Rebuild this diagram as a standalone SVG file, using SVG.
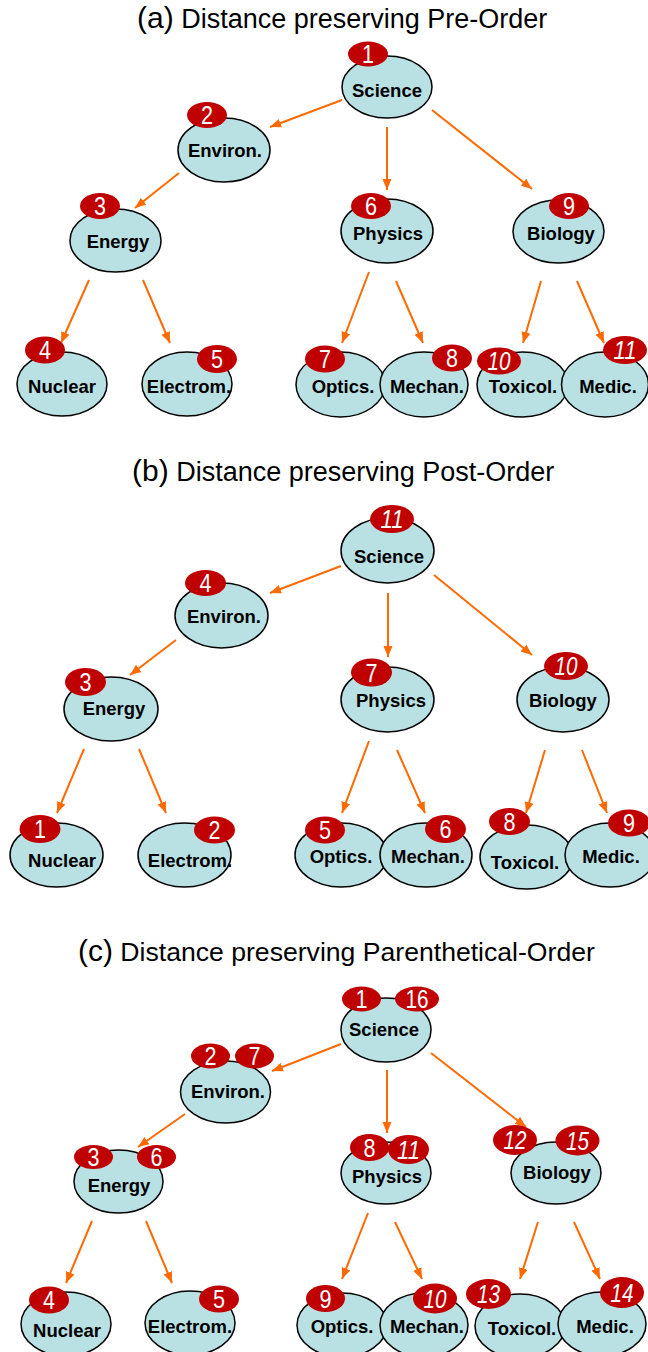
<svg xmlns="http://www.w3.org/2000/svg" width="648" height="1352" viewBox="0 0 648 1352">
<defs>
<marker id="ah" markerWidth="12" markerHeight="10" refX="11" refY="5" orient="auto" markerUnits="userSpaceOnUse"><path d="M0,0.5 L11,5 L0,9.5 z" fill="#FF6A00"/></marker>
<style>
.n{fill:#B9E0E3;stroke:#000;stroke-width:1.5}
.b{fill:#C00000;stroke:none}
.l{font-family:"Liberation Sans",Arial,sans-serif;font-weight:bold;font-size:18.5px;fill:#000;text-anchor:middle}
.d{font-family:"Liberation Sans",Arial,sans-serif;font-size:25px;fill:#fff;text-anchor:middle}
.i{font-style:italic}
.t{font-family:"Liberation Sans",Arial,sans-serif;font-size:27px;fill:#000}
.p{font-size:30px}
.e{stroke:#FF6A00;stroke-width:2;fill:none;marker-end:url(#ah)}
</style>
</defs>
<rect width="648" height="1352" fill="#fff"/>
<text class="t" x="137" y="28"><tspan class="p">(a)</tspan> Distance preserving Pre-Order</text>
<text class="t" x="132" y="481"><tspan class="p">(b)</tspan> Distance preserving Post-Order</text>
<text class="t" x="78" y="961" style="font-size:26.6px"><tspan class="p">(c)</tspan> Distance preserving Parenthetical-Order</text>
<g id="connectors">
<line class="e" x1="342" y1="100" x2="270" y2="127"/>
<line class="e" x1="387" y1="127" x2="387" y2="190"/>
<line class="e" x1="432" y1="110" x2="532" y2="189"/>
<line class="e" x1="179" y1="173" x2="135" y2="208"/>
<line class="e" x1="89" y1="280" x2="61" y2="343"/>
<line class="e" x1="143" y1="280" x2="170" y2="343"/>
<line class="e" x1="369" y1="272" x2="342" y2="343"/>
<line class="e" x1="396" y1="281" x2="423" y2="343"/>
<line class="e" x1="541" y1="281" x2="523" y2="343"/>
<line class="e" x1="577" y1="281" x2="604" y2="343"/>
<line class="e" x1="341" y1="566" x2="270" y2="593"/>
<line class="e" x1="388" y1="593" x2="388" y2="657"/>
<line class="e" x1="434" y1="575" x2="532" y2="655"/>
<line class="e" x1="176" y1="640" x2="130" y2="675"/>
<line class="e" x1="84" y1="749" x2="57" y2="813"/>
<line class="e" x1="139" y1="749" x2="166" y2="813"/>
<line class="e" x1="369" y1="741" x2="342" y2="813"/>
<line class="e" x1="397" y1="750" x2="425" y2="813"/>
<line class="e" x1="545" y1="750" x2="526" y2="813"/>
<line class="e" x1="582" y1="750" x2="607" y2="813"/>
<line class="e" x1="341" y1="1044" x2="272" y2="1071"/>
<line class="e" x1="387" y1="1070" x2="387" y2="1133"/>
<line class="e" x1="431" y1="1053" x2="526" y2="1127"/>
<line class="e" x1="185" y1="1114" x2="138" y2="1147"/>
<line class="e" x1="92" y1="1221" x2="66" y2="1283"/>
<line class="e" x1="146" y1="1221" x2="172" y2="1283"/>
<line class="e" x1="368" y1="1213" x2="342" y2="1279"/>
<line class="e" x1="395" y1="1222" x2="422" y2="1279"/>
<line class="e" x1="538" y1="1222" x2="520" y2="1279"/>
<line class="e" x1="574" y1="1222" x2="600" y2="1279"/>
</g>
<!-- Panel a -->
<g id="a-science"><ellipse class="n" cx="387" cy="87" rx="45" ry="31"/><text class="l" x="387" y="96.5">Science</text><ellipse class="b" cx="368" cy="54" rx="20" ry="12.5"/><text class="d" x="368" y="63" textLength="12" lengthAdjust="spacingAndGlyphs">1</text></g>
<g id="a-environ"><ellipse class="n" cx="224" cy="150" rx="46" ry="32"/><text class="l" x="225" y="157">Environ.</text><ellipse class="b" cx="207" cy="115" rx="20" ry="13"/><text class="d" x="207" y="124" textLength="12" lengthAdjust="spacingAndGlyphs">2</text></g>
<g id="a-energy"><ellipse class="n" cx="115.5" cy="240.5" rx="45.5" ry="31.5"/><text class="l" x="118" y="248">Energy</text><ellipse class="b" cx="100" cy="206" rx="20" ry="13"/><text class="d" x="100" y="215" textLength="12" lengthAdjust="spacingAndGlyphs">3</text></g>
<g id="a-physics"><ellipse class="n" cx="387" cy="231" rx="46" ry="32"/><text class="l" x="388" y="240">Physics</text><ellipse class="b" cx="371" cy="206" rx="20" ry="13"/><text class="d" x="371" y="215" textLength="12" lengthAdjust="spacingAndGlyphs">6</text></g>
<g id="a-biology"><ellipse class="n" cx="558.5" cy="231.5" rx="45.5" ry="31.5"/><text class="l" x="561" y="240">Biology</text><ellipse class="b" cx="569" cy="206" rx="20" ry="13"/><text class="d" x="569" y="215" textLength="12" lengthAdjust="spacingAndGlyphs">9</text></g>
<g id="a-nuclear"><ellipse class="n" cx="62" cy="384" rx="45" ry="32"/><text class="l" x="62" y="393">Nuclear</text><ellipse class="b" cx="45" cy="350" rx="20" ry="13.5"/><text class="d" x="45" y="359" textLength="12" lengthAdjust="spacingAndGlyphs">4</text></g>
<g id="a-electrom"><ellipse class="n" cx="187" cy="384" rx="45" ry="32"/><text class="l" x="189" y="393">Electrom.</text><ellipse class="b" cx="217" cy="359" rx="20" ry="14"/><text class="d" x="217" y="368" textLength="12" lengthAdjust="spacingAndGlyphs">5</text></g>
<g id="a-optics"><ellipse class="n" cx="340.5" cy="384.5" rx="44.5" ry="32.5"/><text class="l" x="343" y="393">Optics.</text><ellipse class="b" cx="325" cy="359" rx="20" ry="13.5"/><text class="d" x="325" y="368" textLength="12" lengthAdjust="spacingAndGlyphs">7</text></g>
<g id="a-mechan"><ellipse class="n" cx="424" cy="384.5" rx="44" ry="32.5"/><text class="l" x="427" y="393">Mechan.</text><ellipse class="b" cx="452" cy="358" rx="20" ry="13.5"/><text class="d" x="452" y="367" textLength="12" lengthAdjust="spacingAndGlyphs">8</text></g>
<g id="a-toxicol"><ellipse class="n" cx="522.5" cy="384.5" rx="45.5" ry="32.5"/><text class="l" x="523" y="393">Toxicol.</text><ellipse class="b" cx="499" cy="361" rx="22" ry="13.5"/><text class="d i" x="499" y="370" textLength="23" lengthAdjust="spacingAndGlyphs">10</text></g>
<g id="a-medic"><ellipse class="n" cx="605" cy="384.5" rx="43.5" ry="32.5"/><text class="l" x="608" y="393">Medic.</text><ellipse class="b" cx="625" cy="350" rx="22" ry="14"/><text class="d i" x="625" y="359" textLength="23" lengthAdjust="spacingAndGlyphs">11</text></g>
<!-- Panel b -->
<g id="b-science"><ellipse class="n" cx="387.5" cy="550.5" rx="46.5" ry="32.5"/><text class="l" x="389" y="563">Science</text><ellipse class="b" cx="392" cy="519" rx="22" ry="14"/><text class="d i" x="392" y="528" textLength="23" lengthAdjust="spacingAndGlyphs">11</text></g>
<g id="b-environ"><ellipse class="n" cx="221.5" cy="615.5" rx="46.5" ry="32.5"/><text class="l" x="224" y="623">Environ.</text><ellipse class="b" cx="205.5" cy="583" rx="20.5" ry="13"/><text class="d" x="205.5" y="592" textLength="12" lengthAdjust="spacingAndGlyphs">4</text></g>
<g id="b-energy"><ellipse class="n" cx="111" cy="709" rx="47" ry="32"/><text class="l" x="114" y="715">Energy</text><ellipse class="b" cx="85.5" cy="682" rx="20.5" ry="14"/><text class="d" x="85.5" y="691" textLength="12" lengthAdjust="spacingAndGlyphs">3</text></g>
<g id="b-physics"><ellipse class="n" cx="387.5" cy="699.5" rx="46.5" ry="32.5"/><text class="l" x="391" y="707">Physics</text><ellipse class="b" cx="371.5" cy="672.5" rx="20.5" ry="14"/><text class="d" x="371.5" y="681.5" textLength="12" lengthAdjust="spacingAndGlyphs">7</text></g>
<g id="b-biology"><ellipse class="n" cx="563" cy="699.5" rx="46" ry="32.5"/><text class="l" x="563" y="707">Biology</text><ellipse class="b" cx="566" cy="666" rx="22" ry="14"/><text class="d i" x="566" y="675" textLength="23" lengthAdjust="spacingAndGlyphs">10</text></g>
<g id="b-nuclear"><ellipse class="n" cx="56.5" cy="855" rx="46.5" ry="32"/><text class="l" x="62" y="867">Nuclear</text><ellipse class="b" cx="40" cy="829" rx="20.5" ry="14"/><text class="d" x="40" y="838" textLength="12" lengthAdjust="spacingAndGlyphs">1</text></g>
<g id="b-electrom"><ellipse class="n" cx="184.5" cy="855" rx="46.5" ry="32"/><text class="l" x="190" y="867">Electrom.</text><ellipse class="b" cx="214.5" cy="830" rx="20.5" ry="13.5"/><text class="d" x="214.5" y="839" textLength="12" lengthAdjust="spacingAndGlyphs">2</text></g>
<g id="b-optics"><ellipse class="n" cx="341" cy="855" rx="46" ry="32"/><text class="l" x="341" y="863">Optics.</text><ellipse class="b" cx="325" cy="830" rx="20" ry="13.5"/><text class="d" x="325" y="839" textLength="12" lengthAdjust="spacingAndGlyphs">5</text></g>
<g id="b-mechan"><ellipse class="n" cx="426" cy="855" rx="46" ry="32"/><text class="l" x="428" y="863">Mechan.</text><ellipse class="b" cx="445.5" cy="829" rx="20.5" ry="14"/><text class="d" x="445.5" y="838" textLength="12" lengthAdjust="spacingAndGlyphs">6</text></g>
<g id="b-toxicol"><ellipse class="n" cx="526.5" cy="857" rx="46.5" ry="32"/><text class="l" x="525" y="869">Toxicol.</text><ellipse class="b" cx="509.5" cy="821.5" rx="20.5" ry="13.5"/><text class="d" x="509.5" y="830.5" textLength="12" lengthAdjust="spacingAndGlyphs">8</text></g>
<g id="b-medic"><ellipse class="n" cx="610" cy="855" rx="45" ry="32"/><text class="l" x="611" y="863">Medic.</text><ellipse class="b" cx="629" cy="823" rx="21" ry="13.5"/><text class="d" x="629" y="832" textLength="12" lengthAdjust="spacingAndGlyphs">9</text></g>
<!-- Panel c -->
<g id="c-science"><ellipse class="n" cx="386" cy="1030" rx="45" ry="32"/><text class="l" x="384" y="1036">Science</text><ellipse class="b" cx="361.5" cy="999" rx="19.5" ry="12.5"/><text class="d" x="361.5" y="1008" textLength="12" lengthAdjust="spacingAndGlyphs">1</text><ellipse class="b" cx="417" cy="999" rx="22" ry="12.5"/><text class="d" x="417" y="1008" textLength="23" lengthAdjust="spacingAndGlyphs">16</text></g>
<g id="c-environ"><ellipse class="n" cx="225.5" cy="1092" rx="45" ry="31"/><text class="l" x="228" y="1098">Environ.</text><ellipse class="b" cx="210.5" cy="1056" rx="19.5" ry="12.5"/><text class="d" x="210.5" y="1065" textLength="12" lengthAdjust="spacingAndGlyphs">2</text><ellipse class="b" cx="254.5" cy="1056" rx="19.5" ry="12.5"/><text class="d" x="254.5" y="1065" textLength="12" lengthAdjust="spacingAndGlyphs">7</text></g>
<g id="c-energy"><ellipse class="n" cx="118.5" cy="1181.5" rx="44.5" ry="31.5"/><text class="l" x="119" y="1192">Energy</text><ellipse class="b" cx="93.5" cy="1157" rx="19.5" ry="12"/><text class="d" x="93.5" y="1166" textLength="12" lengthAdjust="spacingAndGlyphs">3</text><ellipse class="b" cx="156.5" cy="1157" rx="19.5" ry="12"/><text class="d" x="156.5" y="1166" textLength="12" lengthAdjust="spacingAndGlyphs">6</text></g>
<g id="c-physics"><ellipse class="n" cx="386" cy="1173" rx="45" ry="31"/><text class="l" x="387" y="1183">Physics</text><ellipse class="b" cx="369.5" cy="1147.5" rx="19.5" ry="13.5"/><text class="d" x="369.5" y="1156.5" textLength="12" lengthAdjust="spacingAndGlyphs">8</text><ellipse class="b" cx="408.5" cy="1149.5" rx="20.5" ry="14.5"/><text class="d i" x="408.5" y="1158.5" textLength="23" lengthAdjust="spacingAndGlyphs">11</text></g>
<g id="c-biology"><ellipse class="n" cx="556" cy="1173" rx="45" ry="31"/><text class="l" x="557" y="1179">Biology</text><ellipse class="b" cx="515" cy="1140" rx="22" ry="15"/><text class="d i" x="515" y="1149" textLength="23" lengthAdjust="spacingAndGlyphs">12</text><ellipse class="b" cx="577.5" cy="1140.5" rx="22" ry="15"/><text class="d i" x="577.5" y="1149.5" textLength="23" lengthAdjust="spacingAndGlyphs">15</text></g>
<g id="c-nuclear"><ellipse class="n" cx="66" cy="1324" rx="45" ry="32"/><text class="l" x="67" y="1337">Nuclear</text><ellipse class="b" cx="49" cy="1300" rx="20" ry="13.5"/><text class="d" x="49" y="1309" textLength="12" lengthAdjust="spacingAndGlyphs">4</text></g>
<g id="c-electrom"><ellipse class="n" cx="190" cy="1323" rx="45" ry="32"/><text class="l" x="190" y="1333">Electrom.</text><ellipse class="b" cx="219" cy="1299" rx="20" ry="13.5"/><text class="d" x="219" y="1308" textLength="12" lengthAdjust="spacingAndGlyphs">5</text></g>
<g id="c-optics"><ellipse class="n" cx="342" cy="1325" rx="45" ry="32"/><text class="l" x="342" y="1333">Optics.</text><ellipse class="b" cx="325.5" cy="1298.5" rx="19.5" ry="13.5"/><text class="d" x="325.5" y="1307.5" textLength="12" lengthAdjust="spacingAndGlyphs">9</text></g>
<g id="c-mechan"><ellipse class="n" cx="424" cy="1325" rx="44" ry="32"/><text class="l" x="427" y="1333">Mechan.</text><ellipse class="b" cx="435" cy="1298.5" rx="22" ry="15"/><text class="d i" x="435" y="1307.5" textLength="23" lengthAdjust="spacingAndGlyphs">10</text></g>
<g id="c-toxicol"><ellipse class="n" cx="520" cy="1326" rx="45" ry="32"/><text class="l" x="522" y="1335">Toxicol.</text><ellipse class="b" cx="488.5" cy="1294" rx="22.5" ry="15"/><text class="d i" x="488.5" y="1303" textLength="23" lengthAdjust="spacingAndGlyphs">13</text></g>
<g id="c-medic"><ellipse class="n" cx="602" cy="1324" rx="44" ry="32"/><text class="l" x="605" y="1333">Medic.</text><ellipse class="b" cx="622" cy="1292.5" rx="22" ry="15.5"/><text class="d i" x="622" y="1301.5" textLength="23" lengthAdjust="spacingAndGlyphs">14</text></g>
</svg>
